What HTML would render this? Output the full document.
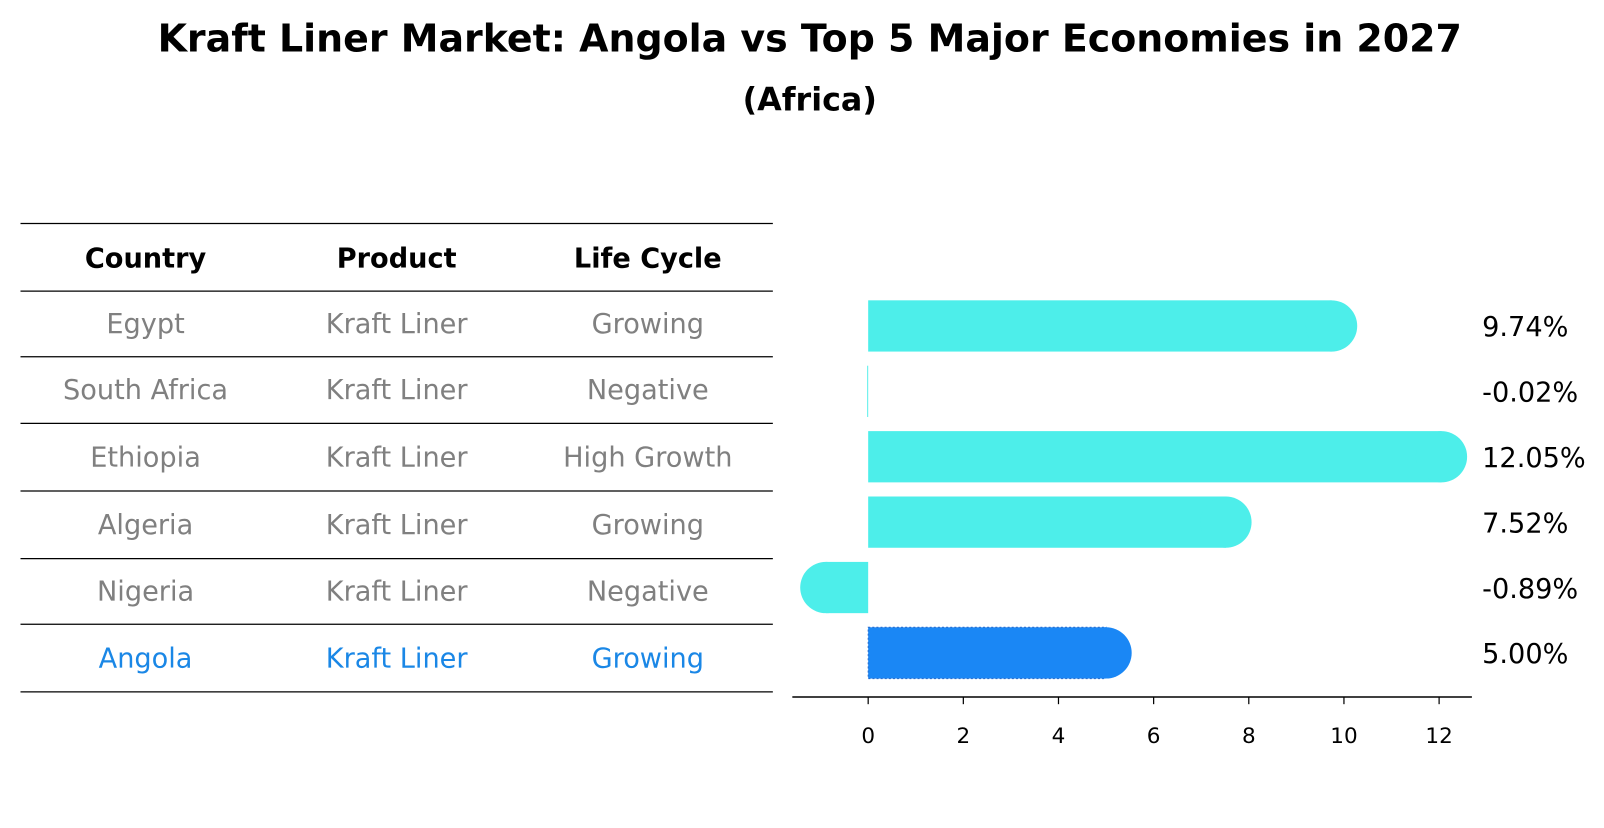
<!DOCTYPE html>
<html><head><meta charset="utf-8"><style>
body{margin:0;background:#fff;font-family:"Liberation Sans","DejaVu Sans",sans-serif;}
svg text{font-family:"DejaVu Sans","Liberation Sans",sans-serif;}
</style></head><body>
<svg width="1604" height="823" viewBox="0 0 1604 823" xmlns="http://www.w3.org/2000/svg">
<g transform="scale(1.025)">
<text x="790" y="50" text-anchor="middle" font-size="37" font-weight="bold">Kraft Liner Market: Angola vs Top 5 Major Economies in 2027</text>
<text x="790" y="108" text-anchor="middle" font-size="31" font-weight="bold">(Africa)</text>
<g id="table"></g>
<g id="bars"></g>
</g>
</svg>
<script>
const countries=["Egypt","South Africa","Ethiopia","Algeria","Nigeria","Angola"];
const products=["Kraft Liner","Kraft Liner","Kraft Liner","Kraft Liner","Kraft Liner","Kraft Liner"];
const lifecycle=["Growing","Negative","High Growth","Growing","Negative","Growing"];
const values=[9.74,-0.02,12.05,7.52,-0.89,5.00];
const ticks=[0,2,4,6,8,10,12];
const NS="http://www.w3.org/2000/svg";
function mk(t,a,p){const e=document.createElementNS(NS,t);for(const k in a)e.setAttribute(k,a[k]);p.appendChild(e);return e;}
const tb=document.getElementById('table');
const lineYs=[218,284,348,413,479,545,609,675];
lineYs.forEach((y,i)=>{const l=mk('line',{x1:20,x2:754,y1:y,y2:y,stroke:'#000','stroke-width':1.2},tb);

});
const colX=[142,387,632];
["Country","Product","Life Cycle"].forEach((h,i)=>{const t=mk('text',{x:colX[i],y:261,'text-anchor':'middle','font-size':26.5,'font-weight':'bold'},tb);t.textContent=h;

});
countries.forEach((c,r)=>{const y=(lineYs[r+1]+lineYs[r+2])/2+9;const col=r===countries.length-1?'#1a87e6':'#808080';
[c,products[r],lifecycle[r]].forEach((v,i)=>{const t=mk('text',{x:colX[i],y:y,'text-anchor':'middle','font-size':26.5,fill:col},tb);t.textContent=v;

});});
const g=document.getElementById('bars');
const x0=847,ppu=(1404-847)/12;
const X=v=>x0+v*ppu;
const Y=i=>318+i*63.8;
const h=50,rad=25;
values.forEach((v,i)=>{const last=i===values.length-1;const fill=last?'#1a87f5':'#4deeea';
const cy=Y(i);const xa=Math.min(X(0),X(v)),xb=Math.max(X(0),X(v));
const r=mk('rect',{x:xa,y:cy-h/2,width:Math.max(xb-xa,0.8),height:h,fill:fill},g);
if(last){r.setAttribute('stroke','#2a6fd0');r.setAttribute('stroke-dasharray','2,2');}


if(Math.abs(v)>0.1){const c=mk('circle',{cx:X(v),cy:cy,r:rad,fill:fill},g);

}
const t=mk('text',{x:1446,y:cy+10,'font-size':26.5},g);t.textContent=v.toFixed(2)+'%';

});
const ax=mk('line',{x1:773,x2:1436,y1:680,y2:680,stroke:'#000','stroke-width':1.5},g);


ticks.forEach(v=>{const l=mk('line',{x1:X(v),x2:X(v),y1:680,y2:687,stroke:'#000','stroke-width':1.2},g);


const t=mk('text',{x:X(v),y:725,'text-anchor':'middle','font-size':21},g);t.textContent=v;

});
</script>
</body></html>
